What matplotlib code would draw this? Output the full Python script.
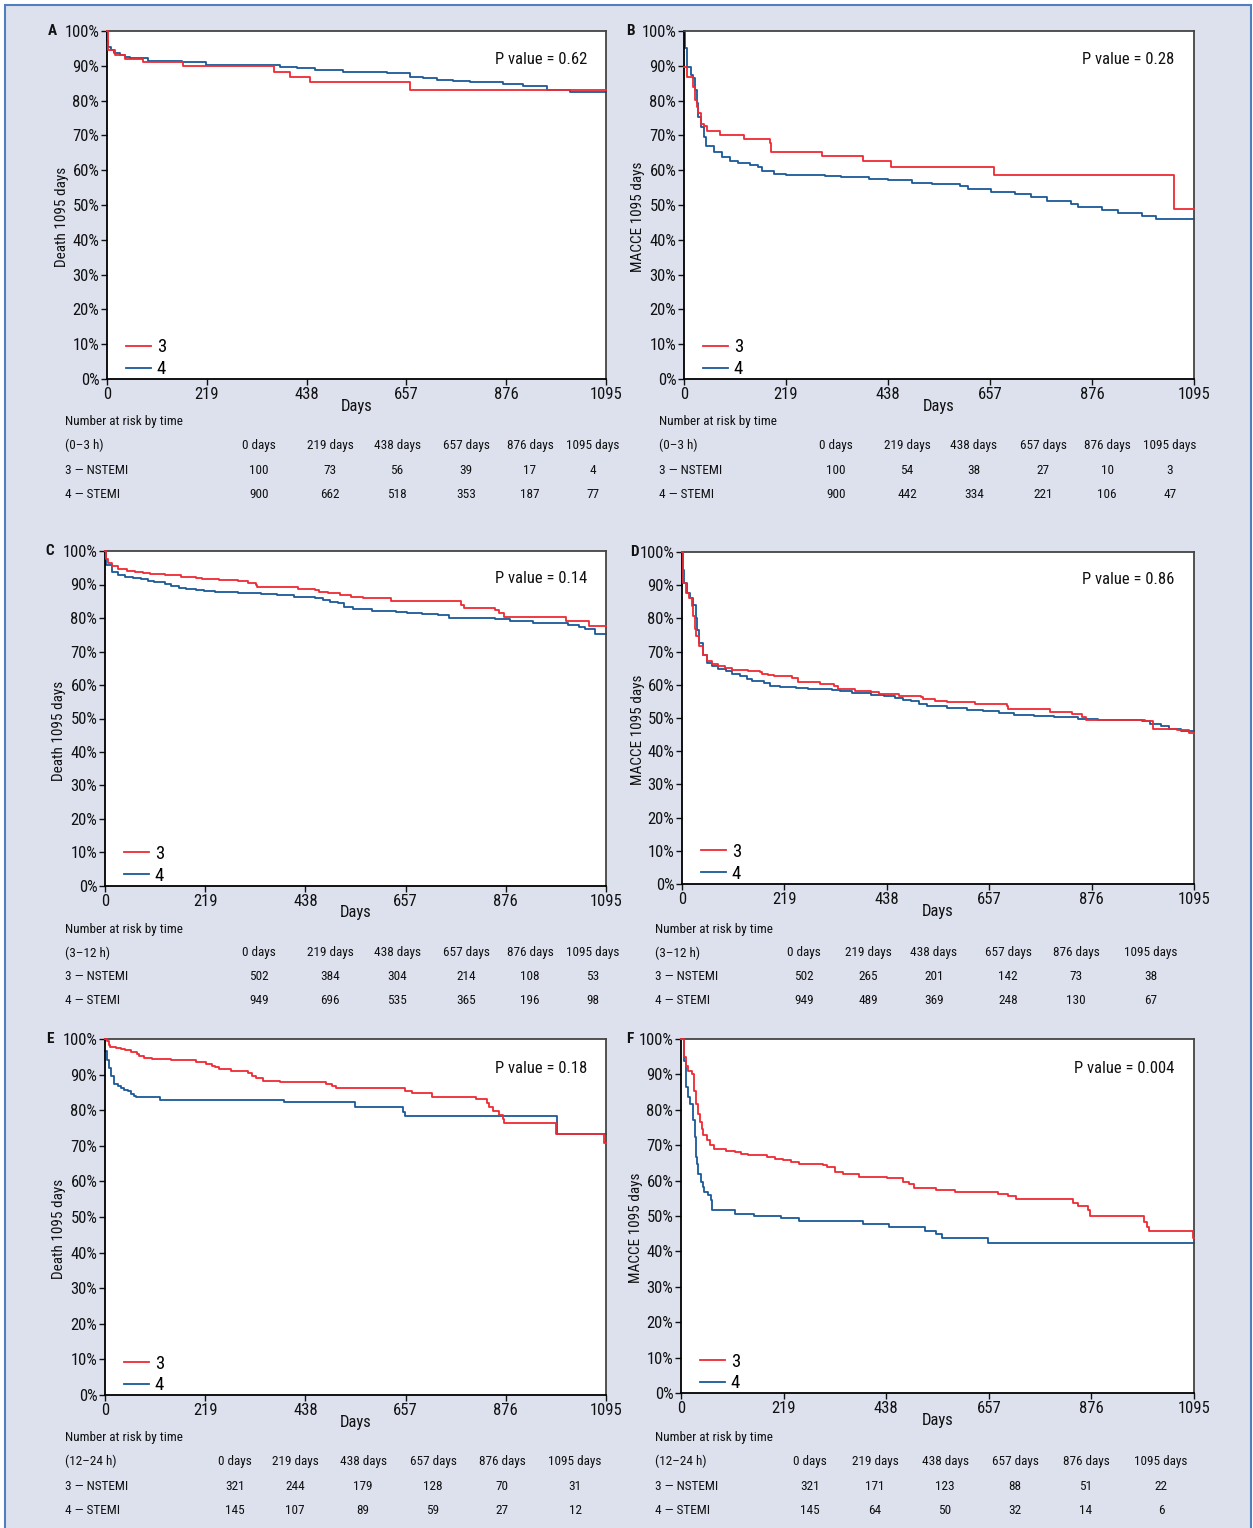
import matplotlib
matplotlib.use('Agg')
import matplotlib.pyplot as plt
from matplotlib import font_manager
from matplotlib.patches import Rectangle

# ---- data (days, % event-free) ----
a3_days = [0, 3, 17, 40, 78, 166, 367, 402, 445, 665]
a3_pct = [100, 94.5, 93.1, 92.0, 91.0, 89.8, 88.3, 86.9, 85.4, 83.0]
a4_days = [0, 1, 3, 8, 15, 28, 40, 50, 90, 164, 218, 380, 416, 456, 518, 584, 614, 665,
           693, 724, 759, 796, 869, 913, 965, 1016]
a4_pct = [100, 97, 95.5, 94.5, 93.8, 93.2, 92.5, 92.1, 91.5, 91.0, 90.2, 89.7, 89.3, 88.8,
          88.3, 88.1, 87.8, 86.9, 86.4, 85.9, 85.6, 85.3, 84.8, 84.2, 83.0, 82.6]

b3_days = [0, 6, 20, 23, 27, 31, 36, 44, 50, 78, 129, 184, 187, 297, 384, 445, 666, 1052]
b3_pct = [89.7, 86.9, 84.0, 80.1, 78.2, 76.3, 73.4, 72.6, 71.3, 70.1, 69.1, 67.7, 65.3,
          64.0, 62.7, 60.9, 58.5, 48.8]
b4_days = [0, 2, 6, 14, 20, 23, 27, 31, 36, 42, 48, 65, 82, 99, 116, 142, 159, 167, 193,
           218, 303, 337, 397, 439, 490, 533, 592, 609, 660, 711, 745, 779, 830, 847, 898,
           932, 983, 1013]
b4_pct = [100, 95.0, 89.7, 87.3, 86.4, 83.0, 79.2, 75.3, 72.5, 69.6, 66.9, 65.3, 63.8,
          62.7, 62.1, 61.4, 60.9, 59.7, 59.0, 58.5, 58.3, 58.1, 57.6, 57.1, 56.4, 56.1,
          55.5, 54.7, 53.7, 53.3, 52.3, 51.1, 50.2, 49.4, 48.5, 47.7, 46.7, 45.9]

c3_days = [0, 2, 7, 15, 28, 49, 65, 82, 99, 132, 166, 199, 212, 249, 291, 312, 329, 333,
           421, 459, 467, 488, 513, 538, 563, 626, 777, 785, 852, 861, 873, 1007, 1057]
c3_pct = [100, 97.5, 96.3, 95.5, 94.5, 94.1, 93.6, 93.3, 93.0, 92.7, 92.3, 92.0, 91.5,
          91.2, 91.0, 90.5, 89.8, 89.3, 88.6, 88.3, 87.8, 87.4, 86.9, 86.4, 85.9, 85.2,
          83.9, 82.9, 82.4, 81.4, 80.4, 79.2, 77.6]
c4_days = [0, 3, 15, 28, 44, 61, 78, 95, 107, 132, 145, 162, 178, 199, 216, 241, 291, 342,
           375, 413, 459, 476, 492, 509, 522, 542, 584, 635, 660, 693, 727, 752, 852, 886,
           936, 1011, 1036, 1049, 1070]
c4_pct = [100, 95.8, 93.8, 92.8, 92.1, 91.8, 91.5, 91.1, 90.6, 90.1, 89.6, 89.1, 88.7,
          88.3, 88.0, 87.8, 87.5, 87.1, 86.9, 86.4, 86.0, 85.4, 84.9, 84.4, 83.4, 82.6,
          82.2, 81.9, 81.6, 81.2, 80.8, 80.1, 79.8, 79.2, 78.4, 77.8, 77.2, 76.6, 75.2]

d3_days = [0, 2.5, 8, 16, 21, 23, 27, 31, 37, 44, 53, 65, 78, 91, 108, 142, 167, 172, 184,
           197, 235, 248, 295, 325, 333, 371, 405, 422, 465, 511, 516, 541, 567, 626, 694,
           698, 787, 834, 855, 864, 991, 1008, 1059, 1085]
d3_pct = [100, 90.7, 87.7, 86.1, 83.6, 80.6, 76.8, 74.6, 71.6, 69.1, 67.1, 66.4, 65.8,
          65.1, 64.6, 64.1, 63.8, 63.4, 63.1, 62.6, 62.0, 60.7, 60.2, 59.7, 58.7, 58.2,
          57.7, 57.2, 56.7, 56.2, 55.7, 55.2, 54.7, 54.2, 53.7, 52.8, 51.7, 51.2, 50.2,
          49.5, 49.0, 46.7, 46.5, 45.5]
d4_days = [0, 2, 4, 10, 17, 23, 29, 33, 37, 44, 53, 65, 78, 95, 108, 125, 138, 150, 176,
           189, 210, 244, 269, 320, 337, 363, 405, 431, 456, 473, 490, 507, 524, 567, 609,
           643, 677, 711, 753, 796, 847, 889, 983, 1000, 1025, 1042, 1068]
d4_pct = [100, 94.7, 90.7, 87.7, 86.1, 84.1, 80.1, 76.6, 72.6, 69.1, 66.6, 65.6, 64.8,
          64.1, 63.4, 62.6, 61.7, 61.0, 60.5, 59.7, 59.3, 59.0, 58.7, 58.5, 58.0, 57.5,
          57.0, 56.5, 56.0, 55.5, 55.0, 54.2, 53.5, 53.0, 52.5, 52.0, 51.5, 51.0, 50.5,
          50.2, 49.8, 49.5, 49.0, 48.3, 47.5, 46.7, 46.2]

e3_days = [0, 5, 8, 11, 23, 36, 44, 57, 69, 75, 86, 103, 145, 199, 220, 233, 241, 249, 275,
           300, 312, 321, 329, 346, 383, 476, 484, 496, 505, 656, 672, 714, 810, 836, 840,
           848, 861, 869, 873, 986, 1091]
e3_pct = [100, 99.3, 98.4, 97.7, 97.4, 97.2, 96.8, 96.3, 95.7, 95.3, 94.6, 94.4, 94.0,
          93.6, 93.0, 92.5, 92.0, 91.5, 91.1, 90.9, 90.5, 89.6, 89.0, 88.2, 88.0, 87.8,
          87.3, 86.8, 86.2, 85.4, 84.8, 83.8, 83.1, 82.0, 80.8, 79.7, 78.6, 77.6, 76.3,
          73.2, 70.9]
e4_days = [0, 4, 8, 13, 19, 28, 36, 42, 50, 57, 64, 67, 120, 392, 547, 651, 655, 988]
e4_pct = [96.5, 94.0, 91.8, 89.5, 87.3, 86.7, 86.2, 85.7, 85.3, 84.6, 84.1, 83.6, 82.9,
          82.2, 81.0, 79.5, 78.4, 73.3]

f3_days = [0, 6, 10, 14, 23, 27, 31, 36, 40, 44, 48, 55, 61, 70, 95, 116, 129, 142, 184,
           201, 218, 235, 252, 303, 312, 329, 346, 380, 439, 473, 486, 497, 545, 584, 677,
           698, 715, 837, 847, 868, 874, 989, 995, 1000, 1092]
f3_pct = [100, 94.8, 92.5, 91.1, 90.1, 85.4, 81.7, 78.9, 76.5, 74.6, 72.8, 71.4, 70.0,
          69.0, 68.5, 68.1, 67.6, 67.1, 66.7, 66.2, 65.7, 65.3, 64.6, 64.3, 63.8, 62.4,
          62.0, 61.0, 60.6, 59.6, 59.0, 58.0, 57.3, 56.8, 56.3, 55.7, 54.7, 53.8, 52.9,
          51.6, 50.0, 48.4, 46.9, 45.7, 43.7]
f4_days = [0, 6, 10, 16, 20, 25, 29, 31, 34, 37, 42, 46, 50, 57, 63, 67, 116, 155, 214,
           252, 388, 443, 520, 545, 558, 656]
f4_pct = [100, 93.9, 86.4, 83.6, 81.7, 77.0, 72.3, 66.7, 64.8, 62.0, 59.6, 58.2, 56.8,
          55.9, 54.5, 51.6, 50.7, 50.0, 49.3, 48.6, 47.7, 46.8, 45.8, 44.9, 43.7, 42.4]

# ---- numbers at risk ----
risk_cols = ['0 days', '219 days', '438 days', '657 days', '876 days', '1095 days']
risk_a3 = [100, 73, 56, 39, 17, 4]
risk_a4 = [900, 662, 518, 353, 187, 77]
risk_b3 = [100, 54, 38, 27, 10, 3]
risk_b4 = [900, 442, 334, 221, 106, 47]
risk_c3 = [502, 384, 304, 214, 108, 53]
risk_c4 = [949, 696, 535, 365, 196, 98]
risk_d3 = [502, 265, 201, 142, 73, 38]
risk_d4 = [949, 489, 369, 248, 130, 67]
risk_e3 = [321, 244, 179, 128, 70, 31]
risk_e4 = [145, 107, 89, 59, 27, 12]
risk_f3 = [321, 171, 123, 88, 51, 22]
risk_f4 = [145, 64, 50, 32, 14, 6]

letters = ['A', 'B', 'C', 'D', 'E', 'F']
ylabels = ['Death 1095 days', 'MACCE 1095 days'] * 3
pvalues = ['0.62', '0.28', '0.14', '0.86', '0.18', '0.004']
windows = ['(0\u20133 h)', '(0\u20133 h)', '(3\u201312 h)', '(3\u201312 h)',
           '(12\u201324 h)', '(12\u201324 h)']
xticks = [0, 219, 438, 657, 876, 1095]


def pick_font():
    for fam in ['Liberation Sans Narrow', 'Roboto Condensed', 'DejaVu Sans']:
        try:
            font_manager.findfont(font_manager.FontProperties(family=fam),
                                  fallback_to_default=False)
            return fam
        except ValueError:
            pass
    return 'DejaVu Sans'


plt.rcParams['font.family'] = pick_font()
if plt.rcParams['font.family'][0] == 'DejaVu Sans':
    plt.rcParams['font.stretch'] = 'condensed'

W, H = 1253, 1528
RED = '#ee2a33'
BLUE = '#1a5898'
BG = '#dde1ee'
INK = '#111111'

fig = plt.figure(figsize=(W / 100, H / 100), dpi=100)
fig.patch.set_facecolor('white')
fig.patches.append(Rectangle((5 / W, -0.01), 1246 / W, 1 - 5 / H + 0.01,
                             transform=fig.transFigure, facecolor=BG,
                             edgecolor='#4f7fbf', linewidth=1.5, zorder=-5))


def fx(x):
    return x / W


def fy(y):
    return 1 - y / H


# pixel layout: axes box, letter, ylabel x, risk label x, risk rows, risk columns
layout = [
    ((107, 31, 606, 379), 52, 62, 65, (422, 445, 470, 494), (259, 330, 397, 466, 530, 593)),
    ((684, 31, 1194, 379), 630, 638, 659, (422, 445, 470, 494), (836, 907, 974, 1043, 1107, 1170)),
    ((105, 551, 606, 886), 50, 59, 65, (929, 953, 977, 1001), (259, 330, 397, 466, 530, 593)),
    ((682, 552, 1194, 884), 634, 638, 655, (929, 953, 977, 1001), (804, 868, 934, 1008, 1076, 1151)),
    ((105, 1039, 606, 1395), 50, 59, 65, (1438, 1461, 1486, 1510), (235, 295, 363, 433, 502, 575)),
    ((681, 1039, 1194, 1393), 630, 636, 655, (1438, 1461, 1486, 1510), (810, 875, 945, 1015, 1086, 1161)),
]

curves = [(a3_days, a3_pct, a4_days, a4_pct), (b3_days, b3_pct, b4_days, b4_pct),
          (c3_days, c3_pct, c4_days, c4_pct), (d3_days, d3_pct, d4_days, d4_pct),
          (e3_days, e3_pct, e4_days, e4_pct), (f3_days, f3_pct, f4_days, f4_pct)]
risks = [(risk_a3, risk_a4), (risk_b3, risk_b4), (risk_c3, risk_c4),
         (risk_d3, risk_d4), (risk_e3, risk_e4), (risk_f3, risk_f4)]

for i in range(6):
    (x0, y0, x1, y1), lx, ylx, rx, rows, cols = layout[i]
    ax = fig.add_axes([fx(x0), fy(y1), (x1 - x0) / W, (y1 - y0) / H], zorder=2)
    ax.set_facecolor('white')
    t3, s3, t4, s4 = curves[i]
    ax.step(t3 + [1095], s3 + [s3[-1]], where='post', color=RED, lw=1.3, label='3',
            zorder=3, clip_on=False)
    ax.step(t4 + [1095], s4 + [s4[-1]], where='post', color=BLUE, lw=1.3, label='4',
            zorder=2, clip_on=False)
    ax.set_xlim(0, 1095)
    ax.set_ylim(0, 100)
    ax.set_xticks(xticks)
    ax.set_yticks(range(0, 101, 10))
    ax.set_yticklabels([f'{v}%' for v in range(0, 101, 10)])
    ax.tick_params(direction='out', length=4, width=1, labelsize=12, pad=1.5, colors=INK)
    for side in ['left', 'bottom']:
        ax.spines[side].set_color('black')
        ax.spines[side].set_linewidth(1.3)
    for side in ['top', 'right']:
        ax.spines[side].set_color('#444444')
        ax.spines[side].set_linewidth(1.3)
    ax.legend(loc='lower left', frameon=False, fontsize=13.5,
              handlelength=1.35, handletextpad=0.3, labelspacing=0.2,
              borderaxespad=0.2, bbox_to_anchor=(0.015, -0.03))
    ax.text(0.962, 0.918, 'P value = ' + pvalues[i], transform=ax.transAxes,
            ha='right', va='center', fontsize=12, color=INK)

    cy = (y0 + y1) / 2 + 12
    fig.text(fx(ylx), fy(cy), ylabels[i], rotation=90, ha='center', va='center',
             fontsize=11, color=INK)
    fig.text(fx(lx), fy(y0), letters[i], ha='center', va='center', fontsize=11,
             fontweight='bold', color=INK)
    fig.text(fx((x0 + x1) / 2), fy(y1 + 27), 'Days', ha='center', va='center',
             fontsize=12, color=INK)

    fig.text(fx(rx), fy(rows[0]), 'Number at risk by time', ha='left', va='center',
             fontsize=9.5, color=INK)
    fig.text(fx(rx), fy(rows[1]), windows[i], ha='left', va='center', fontsize=9.5,
             color=INK)
    fig.text(fx(rx), fy(rows[2]), '3 \u2014 NSTEMI', ha='left', va='center',
             fontsize=9.5, color=INK)
    fig.text(fx(rx), fy(rows[3]), '4 \u2014 STEMI', ha='left', va='center',
             fontsize=9.5, color=INK)
    r3, r4 = risks[i]
    for j in range(6):
        fig.text(fx(cols[j]), fy(rows[1]), risk_cols[j], ha='center', va='center',
                 fontsize=9.5, color=INK)
        fig.text(fx(cols[j]), fy(rows[2]), str(r3[j]), ha='center', va='center',
                 fontsize=9.5, color=INK)
        fig.text(fx(cols[j]), fy(rows[3]), str(r4[j]), ha='center', va='center',
                 fontsize=9.5, color=INK)

fig.savefig('out.png', dpi=100, facecolor=fig.get_facecolor())
